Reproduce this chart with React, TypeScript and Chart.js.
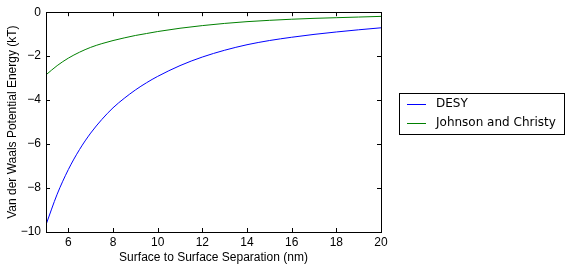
import React, { useEffect, useRef } from "react";
import { Chart, registerables } from "chart.js";

Chart.register(...registerables);

// Surface to surface separation (nm)
const separation = [5, 5.5, 6, 6.5, 7, 7.5, 8, 8.5, 9, 9.5, 10, 11, 12, 13, 14, 15, 16, 17, 18, 19, 20];
// Van der Waals potential energy (kT)
const desy = [-9.67, -8.28, -7.16, -6.25, -5.5, -4.88, -4.35, -3.92, -3.54, -3.21, -2.92, -2.43, -2.04, -1.73, -1.48, -1.29, -1.14, -1.01, -0.9, -0.8, -0.71];
const johnsonChristy = [-2.85, -2.43, -2.09, -1.82, -1.6, -1.43, -1.29, -1.17, -1.06, -0.97, -0.88, -0.73, -0.61, -0.51, -0.43, -0.37, -0.32, -0.28, -0.25, -0.22, -0.19];

const seriesLabels = ["DESY", "Johnson and Christy"];
const seriesColors = ["#0000ff", "#008000"];

const xTickValues = [6, 8, 10, 12, 14, 16, 18, 20];
const yTickValues = [0, -2, -4, -6, -8, -10];

const xTitle = "Surface to Surface Separation (nm)";
const yTitle = "Van der Waals Potential Energy (kT)";

const AXIS_FONT = "'Liberation Sans', Arial, sans-serif";
const LEGEND_FONT = "'DejaVu Sans', sans-serif";

const fmt = (v: number) => (v < 0 ? "\u2212" + Math.abs(v) : String(v));

const framePlugin = {
  id: "frameTicks",
  afterDraw(chart: any) {
    const { ctx, chartArea } = chart;
    const { left, right, top, bottom } = chartArea;
    const xs = chart.scales.x;
    const ys = chart.scales.y;
    ctx.save();
    ctx.strokeStyle = "#000";
    ctx.lineWidth = 1;
    const tl = 4;
    ctx.beginPath();
    xTickValues.forEach((v) => {
      const px = Math.round(xs.getPixelForValue(v)) + 0.5;
      ctx.moveTo(px, bottom);
      ctx.lineTo(px, bottom - tl);
      ctx.moveTo(px, top);
      ctx.lineTo(px, top + tl);
    });
    yTickValues.forEach((v) => {
      const py = Math.round(ys.getPixelForValue(v)) + 0.5;
      ctx.moveTo(left, py);
      ctx.lineTo(left + tl, py);
      ctx.moveTo(right, py);
      ctx.lineTo(right - tl, py);
    });
    ctx.stroke();
    ctx.strokeRect(Math.round(left) + 0.5, Math.round(top) + 0.5, Math.round(right - left), Math.round(bottom - top));

    // legend
    const bx = 399.5, by = 93.5, bw = 165, bh = 41;
    ctx.fillStyle = "#fff";
    ctx.fillRect(bx, by, bw, bh);
    ctx.strokeRect(bx, by, bw, bh);
    const rows = [104, 123];
    ctx.font = `12px ${LEGEND_FONT}`;
    ctx.textBaseline = "middle";
    ctx.textAlign = "left";
    seriesLabels.forEach((lab, i) => {
      const y = rows[i] + 0.5;
      ctx.strokeStyle = seriesColors[i];
      ctx.beginPath();
      ctx.moveTo(407, y);
      ctx.lineTo(426, y);
      ctx.stroke();
      ctx.fillStyle = "#000";
      ctx.fillText(lab, 436, rows[i]);
    });
    ctx.restore();
  },
};

export default function App() {
  const ref = useRef<HTMLCanvasElement | null>(null);
  useEffect(() => {
    if (!ref.current) return;
    const chart = new Chart(ref.current, {
      type: "line",
      data: {
        datasets: [
          {
            label: seriesLabels[0],
            data: separation.map((x, i) => ({ x, y: desy[i] })),
            borderColor: seriesColors[0],
            borderWidth: 1,
            pointRadius: 0,
            cubicInterpolationMode: "monotone",
            fill: false,
          },
          {
            label: seriesLabels[1],
            data: separation.map((x, i) => ({ x, y: johnsonChristy[i] })),
            borderColor: seriesColors[1],
            borderWidth: 1,
            pointRadius: 0,
            cubicInterpolationMode: "monotone",
            fill: false,
          },
        ],
      },
      options: {
        responsive: false,
        animation: false,
        layout: { padding: { top: 9, right: 188, left: 0, bottom: 0 } },
        plugins: {
          legend: { display: false },
          tooltip: { enabled: false },
        },
        scales: {
          x: {
            type: "linear",
            min: 5,
            max: 20,
            grid: { display: false, drawTicks: false },
            border: { display: false },
            afterBuildTicks: (s: any) => {
              s.ticks = xTickValues.map((v) => ({ value: v }));
            },
            afterFit: (s: any) => {
              s.height = 36;
            },
            ticks: {
              color: "#000",
              font: { family: AXIS_FONT, size: 12 },
              padding: 3,
              maxRotation: 0,
              callback: (v: any) => fmt(Number(v)),
            },
            title: {
              display: true,
              text: xTitle,
              color: "#000",
              font: { family: AXIS_FONT, size: 12 },
              padding: { top: 3, bottom: 3 },
            },
          },
          y: {
            type: "linear",
            min: -10,
            max: 0,
            grid: { display: false, drawTicks: false },
            border: { display: false },
            afterBuildTicks: (s: any) => {
              s.ticks = yTickValues.map((v) => ({ value: v }));
            },
            afterFit: (s: any) => {
              s.width = 46;
            },
            ticks: {
              color: "#000",
              font: { family: AXIS_FONT, size: 12 },
              padding: 5,
              callback: (v: any) => fmt(Number(v)),
            },
            title: {
              display: true,
              text: yTitle,
              color: "#000",
              font: { family: AXIS_FONT, size: 12 },
              padding: { top: 5, bottom: 5 },
            },
          },
        },
      },
      plugins: [framePlugin],
    } as any);
    return () => chart.destroy();
  }, []);
  return (
    <div style={{ position: "fixed", left: 0, top: 0, width: 569, height: 268, background: "#fff" }}>
      <canvas ref={ref} width={569} height={268} style={{ display: "block", width: 569, height: 268 }} />
    </div>
  );
}
